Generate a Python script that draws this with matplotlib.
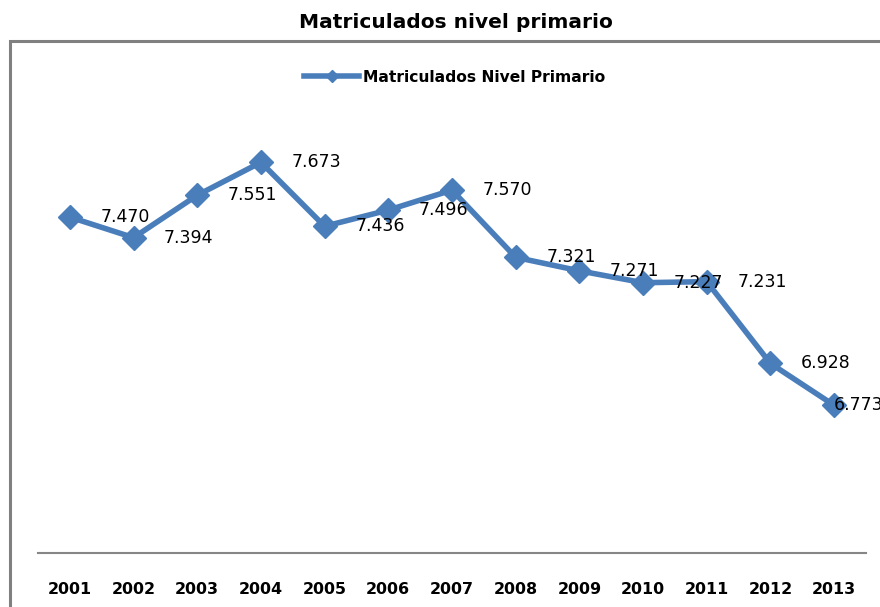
import matplotlib.pyplot as plt
from matplotlib.lines import Line2D
from matplotlib.patches import Rectangle

years = ['2001', '2002', '2003', '2004', '2005', '2006', '2007',
         '2008', '2009', '2010', '2011', '2012', '2013']
matriculados = [7.470, 7.394, 7.551, 7.673, 7.436, 7.496, 7.570,
                7.321, 7.271, 7.227, 7.231, 6.928, 6.773]
series_name = 'Matriculados Nivel Primario'
title = 'Matriculados nivel primario'

blue = '#4a7ebb'
W, H = 880, 607

fig = plt.figure(figsize=(W / 100, H / 100), dpi=100)
# plot area: x 38..866, y 74..553 (pixels from top)
ax = fig.add_axes([38 / W, 1 - 553 / H, (866 - 38) / W, (553 - 74) / H])

x = list(range(len(years)))
ax.plot(x, matriculados, color=blue, lw=4, marker='D', markersize=12,
        markeredgecolor=blue, markerfacecolor=blue, clip_on=False, zorder=3)

for i, (xi, v) in enumerate(zip(x, matriculados)):
    # last label gets pushed back onto the point, like the original
    dx = 0 if i == len(x) - 1 else 22
    ax.annotate(f'{v:.3f}', (xi, v), xytext=(dx, 0), textcoords='offset points',
                ha='left', va='center', fontsize=12.5, family='DejaVu Sans',
                color='black', zorder=4, annotation_clip=False)

ax.set_xlim(-0.5, len(years) - 0.5)
ax.set_ylim(6.226, 8.0)
ax.set_xticks(x)
ax.set_xticklabels(years, fontsize=11.4, fontweight='bold', family='DejaVu Sans')
ax.tick_params(axis='x', length=0, pad=21)
ax.set_yticks([])
for s in ['top', 'left', 'right']:
    ax.spines[s].set_visible(False)
ax.spines['bottom'].set_color('#868686')
ax.spines['bottom'].set_linewidth(1.5)

# outer chart frame (runs off the right and bottom edges)
frame = Rectangle((9.5 / W, -0.1), 1.0, 1 - 40.5 / H + 0.1,
                  transform=fig.transFigure, fill=False,
                  edgecolor='#808080', lw=2.2, clip_on=False)
fig.add_artist(frame)

fig.text(456 / W, 1 - 22 / H, title, ha='center', va='center',
         fontsize=14.5, fontweight='bold', family='DejaVu Sans')

handle = Line2D([], [], color=blue, lw=4, marker='D', markersize=6)
ax.legend([handle], [series_name], loc='center',
          bbox_to_anchor=(455 / W, 1 - 77 / H), bbox_transform=fig.transFigure,
          frameon=False, prop={'family': 'DejaVu Sans', 'weight': 'bold', 'size': 11.2},
          handlelength=3.5, handletextpad=0.3)

fig.savefig('out.png', dpi=100)
